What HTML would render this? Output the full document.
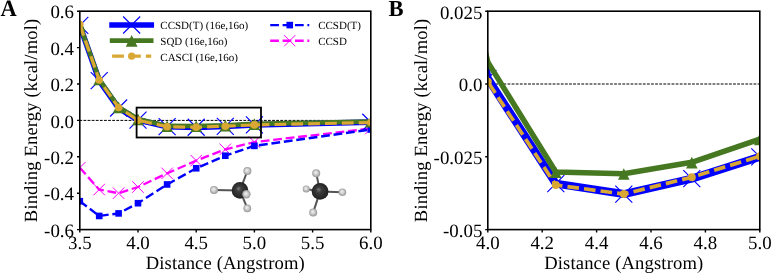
<!DOCTYPE html><html><head><meta charset="utf-8"><style>html,body{margin:0;padding:0;background:#fff;overflow:hidden}svg{display:block;will-change:transform}text{font-family:"Liberation Serif",serif;fill:#000;text-rendering:geometricPrecision}</style></head><body><svg width="771" height="273" viewBox="0 0 771 273"><defs><clipPath id="cl"><rect x="79.8" y="11.2" width="291.0" height="218.4"/></clipPath><clipPath id="cr"><rect x="487.8" y="11.2" width="271.99999999999994" height="218.4"/></clipPath><radialGradient id="gC" cx="0.5" cy="0.5" fx="0.4" fy="0.38" r="0.55"><stop offset="0" stop-color="#7a7a7a"/><stop offset="0.3" stop-color="#3c3c3c"/><stop offset="1" stop-color="#1e1e1e"/></radialGradient><radialGradient id="gH" cx="0.5" cy="0.5" fx="0.42" fy="0.4" r="0.55"><stop offset="0" stop-color="#f4f4f4"/><stop offset="0.45" stop-color="#cfcfcf"/><stop offset="1" stop-color="#8c8c8c"/></radialGradient></defs><g clip-path="url(#cl)"><line x1="79.8" y1="120.40" x2="370.8" y2="120.40" stroke="#000" stroke-width="1" stroke-dasharray="2.8 1.3" stroke-dashoffset="0.4"/><polyline points="79.80,167.72 99.20,189.56 118.60,193.20 138.00,187.01 167.10,173.36 196.20,160.62 225.30,149.34 254.40,142.06 370.80,128.59" fill="none" stroke="#ff00ff" stroke-width="2.35" stroke-dasharray="8.8 3.75"/><path d="M74.05,161.97L85.55,173.47M74.05,173.47L85.55,161.97" stroke="#ff00ff" stroke-width="1.0" fill="none"/><path d="M93.45,183.81L104.95,195.31M93.45,195.31L104.95,183.81" stroke="#ff00ff" stroke-width="1.0" fill="none"/><path d="M112.85,187.45L124.35,198.95M112.85,198.95L124.35,187.45" stroke="#ff00ff" stroke-width="1.0" fill="none"/><path d="M132.25,181.26L143.75,192.76M132.25,192.76L143.75,181.26" stroke="#ff00ff" stroke-width="1.0" fill="none"/><path d="M161.35,167.61L172.85,179.11M161.35,179.11L172.85,167.61" stroke="#ff00ff" stroke-width="1.0" fill="none"/><path d="M190.45,154.87L201.95,166.37M190.45,166.37L201.95,154.87" stroke="#ff00ff" stroke-width="1.0" fill="none"/><path d="M219.55,143.59L231.05,155.09M219.55,155.09L231.05,143.59" stroke="#ff00ff" stroke-width="1.0" fill="none"/><path d="M248.65,136.31L260.15,147.81M248.65,147.81L260.15,136.31" stroke="#ff00ff" stroke-width="1.0" fill="none"/><path d="M365.05,122.84L376.55,134.34M365.05,134.34L376.55,122.84" stroke="#ff00ff" stroke-width="1.0" fill="none"/><polyline points="79.80,201.21 99.20,215.95 118.60,213.40 138.00,203.21 167.10,184.46 196.20,168.27 225.30,155.71 254.40,145.88 370.80,129.50" fill="none" stroke="#0000ff" stroke-width="2.35" stroke-dasharray="8.8 3.75"/><rect x="76.50" y="197.91" width="6.6" height="6.6" fill="#0000ff"/><rect x="95.90" y="212.65" width="6.6" height="6.6" fill="#0000ff"/><rect x="115.30" y="210.10" width="6.6" height="6.6" fill="#0000ff"/><rect x="134.70" y="199.91" width="6.6" height="6.6" fill="#0000ff"/><rect x="163.80" y="181.16" width="6.6" height="6.6" fill="#0000ff"/><rect x="192.90" y="164.97" width="6.6" height="6.6" fill="#0000ff"/><rect x="222.00" y="152.41" width="6.6" height="6.6" fill="#0000ff"/><rect x="251.10" y="142.58" width="6.6" height="6.6" fill="#0000ff"/><rect x="367.50" y="126.20" width="6.6" height="6.6" fill="#0000ff"/><polyline points="79.80,25.40 99.20,80.54 118.60,108.02 138.00,120.05 167.10,126.62 196.20,127.28 225.30,126.32 254.40,124.95 370.80,122.22" fill="none" stroke="#0000ff" stroke-width="5.7" stroke-linejoin="round"/><path d="M71.30,16.90L88.30,33.90M71.30,33.90L88.30,16.90" stroke="#0000ff" stroke-width="1.15" fill="none"/><path d="M90.70,72.04L107.70,89.04M90.70,89.04L107.70,72.04" stroke="#0000ff" stroke-width="1.15" fill="none"/><path d="M110.10,99.52L127.10,116.52M110.10,116.52L127.10,99.52" stroke="#0000ff" stroke-width="1.15" fill="none"/><path d="M129.50,111.55L146.50,128.55M129.50,128.55L146.50,111.55" stroke="#0000ff" stroke-width="1.15" fill="none"/><path d="M158.60,118.12L175.60,135.12M158.60,135.12L175.60,118.12" stroke="#0000ff" stroke-width="1.15" fill="none"/><path d="M187.70,118.78L204.70,135.78M187.70,135.78L204.70,118.78" stroke="#0000ff" stroke-width="1.15" fill="none"/><path d="M216.80,117.82L233.80,134.81M216.80,134.81L233.80,117.82" stroke="#0000ff" stroke-width="1.15" fill="none"/><path d="M245.90,116.45L262.90,133.45M245.90,133.45L262.90,116.45" stroke="#0000ff" stroke-width="1.15" fill="none"/><path d="M362.30,113.72L379.30,130.72M362.30,130.72L379.30,113.72" stroke="#0000ff" stroke-width="1.15" fill="none"/><polyline points="79.80,25.03 99.20,79.27 118.60,107.11 138.00,119.04 167.10,125.90 196.20,126.01 225.30,125.30 254.40,123.84 370.80,121.49" fill="none" stroke="#467821" stroke-width="4.6" stroke-linejoin="round"/><path d="M79.80,19.53L74.00,31.13L85.60,31.13Z" fill="#467821"/><path d="M99.20,73.77L93.40,85.37L105.00,85.37Z" fill="#467821"/><path d="M118.60,101.61L112.80,113.21L124.40,113.21Z" fill="#467821"/><path d="M138.00,113.54L132.20,125.14L143.80,125.14Z" fill="#467821"/><path d="M167.10,120.40L161.30,132.00L172.90,132.00Z" fill="#467821"/><path d="M196.20,120.51L190.40,132.11L202.00,132.11Z" fill="#467821"/><path d="M225.30,119.80L219.50,131.40L231.10,131.40Z" fill="#467821"/><path d="M254.40,118.34L248.60,129.94L260.20,129.94Z" fill="#467821"/><path d="M370.80,115.99L365.00,127.59L376.60,127.59Z" fill="#467821"/><polyline points="79.80,24.49 99.20,80.00 118.60,107.48 138.00,120.25 167.10,126.72 196.20,127.28 225.30,126.22 254.40,124.91 370.80,122.58" fill="none" stroke="#d9a733" stroke-width="3.2" stroke-dasharray="11.76 5.1"/><circle cx="79.80" cy="24.49" r="3.8" fill="#d9a733"/><circle cx="99.20" cy="80.00" r="3.8" fill="#d9a733"/><circle cx="118.60" cy="107.48" r="3.8" fill="#d9a733"/><circle cx="138.00" cy="120.25" r="3.8" fill="#d9a733"/><circle cx="167.10" cy="126.72" r="3.8" fill="#d9a733"/><circle cx="196.20" cy="127.28" r="3.8" fill="#d9a733"/><circle cx="225.30" cy="126.22" r="3.8" fill="#d9a733"/><circle cx="254.40" cy="124.91" r="3.8" fill="#d9a733"/><circle cx="370.80" cy="122.58" r="3.8" fill="#d9a733"/></g><rect x="136.6" y="107.6" width="124.4" height="29.9" fill="none" stroke="#000" stroke-width="1.8"/><line x1="240.0" y1="190.4" x2="247.4" y2="171.0" stroke="#555" stroke-width="2"/><line x1="240.0" y1="190.4" x2="214.0" y2="189.9" stroke="#555" stroke-width="2"/><line x1="240.0" y1="190.4" x2="246.4" y2="194.3" stroke="#555" stroke-width="2"/><line x1="240.0" y1="190.4" x2="247.3" y2="208.3" stroke="#555" stroke-width="2"/><circle cx="247.4" cy="171.0" r="4.0" fill="url(#gH)"/><circle cx="214.0" cy="189.9" r="4.0" fill="url(#gH)"/><circle cx="247.3" cy="208.3" r="3.9" fill="url(#gH)"/><circle cx="240.0" cy="190.4" r="8.3" fill="url(#gC)"/><circle cx="246.4" cy="194.3" r="4.2" fill="url(#gH)"/><line x1="320.1" y1="191.4" x2="316.2" y2="173.2" stroke="#555" stroke-width="2"/><line x1="320.1" y1="191.4" x2="306.2" y2="188.9" stroke="#555" stroke-width="2"/><line x1="320.1" y1="191.4" x2="342.4" y2="192.2" stroke="#555" stroke-width="2"/><line x1="320.1" y1="191.4" x2="313.2" y2="212.4" stroke="#555" stroke-width="2"/><circle cx="316.2" cy="173.2" r="4.0" fill="url(#gH)"/><circle cx="342.4" cy="192.2" r="3.8" fill="url(#gH)"/><circle cx="313.2" cy="212.4" r="4.0" fill="url(#gH)"/><circle cx="320.1" cy="191.4" r="8.4" fill="url(#gC)"/><circle cx="306.2" cy="188.9" r="3.5" fill="url(#gH)"/><rect x="79.8" y="11.2" width="291.00" height="218.40" fill="none" stroke="#000" stroke-width="1.6"/><path d="M79.80,229.6v2.9M138.00,229.6v2.9M196.20,229.6v2.9M254.40,229.6v2.9M312.60,229.6v2.9M370.80,229.6v2.9M79.8,11.20h-2.8M79.8,47.60h-2.8M79.8,84.00h-2.8M79.8,120.40h-2.8M79.8,156.80h-2.8M79.8,193.20h-2.8M79.8,229.60h-2.8" stroke="#000" stroke-width="1.4" fill="none"/><text x="79.80" y="248.6" font-size="18.9" text-anchor="middle">3.5</text><text x="138.00" y="248.6" font-size="18.9" text-anchor="middle">4.0</text><text x="196.20" y="248.6" font-size="18.9" text-anchor="middle">4.5</text><text x="254.40" y="248.6" font-size="18.9" text-anchor="middle">5.0</text><text x="312.60" y="248.6" font-size="18.9" text-anchor="middle">5.5</text><text x="370.80" y="248.6" font-size="18.9" text-anchor="middle">6.0</text><text x="74" y="18.40" font-size="18.9" text-anchor="end">0.6</text><text x="74" y="54.80" font-size="18.9" text-anchor="end">0.4</text><text x="74" y="91.20" font-size="18.9" text-anchor="end">0.2</text><text x="74" y="127.60" font-size="18.9" text-anchor="end">0.0</text><text x="74" y="164.00" font-size="18.9" text-anchor="end">-0.2</text><text x="74" y="200.40" font-size="18.9" text-anchor="end">-0.4</text><text x="74" y="236.80" font-size="18.9" text-anchor="end">-0.6</text><text x="225.30" y="268.7" font-size="18.6" letter-spacing="0.14" text-anchor="middle">Distance (Angstrom)</text><text transform="translate(37.4,120.40) rotate(-90)" font-size="18.6" letter-spacing="0.14" text-anchor="middle">Binding Energy (kcal/mol)</text><text transform="translate(0.6,16.3) scale(1,1.05)" font-size="22.5" font-weight="bold">A</text><line x1="112.1" y1="25.0" x2="151.2" y2="25.0" stroke="#0000ff" stroke-width="5.7" stroke-linecap="square"/><path d="M123.15,16.50L140.15,33.50M123.15,33.50L140.15,16.50" stroke="#0000ff" stroke-width="1.15" fill="none"/><line x1="112.1" y1="40.6" x2="151.2" y2="40.6" stroke="#467821" stroke-width="4.6" stroke-linecap="square"/><path d="M131.65,34.90L125.75,46.70L137.55,46.70Z" fill="#467821"/><line x1="112.1" y1="56.2" x2="151.2" y2="56.2" stroke="#d9a733" stroke-width="3.2" stroke-dasharray="11.8 5.1"/><circle cx="131.65" cy="56.20" r="3.6" fill="#d9a733"/><text x="160.3" y="29.30" font-size="11">CCSD(T) (16e,16o)</text><text x="160.3" y="44.90" font-size="11">SQD (16e,16o)</text><text x="160.3" y="60.50" font-size="11">CASCI (16e,16o)</text><line x1="270.2" y1="25.1" x2="309.3" y2="25.1" stroke="#0000ff" stroke-width="2.35" stroke-dasharray="8.7 3.7"/><rect x="286.45" y="21.80" width="6.6" height="6.6" fill="#0000ff"/><line x1="270.2" y1="40.7" x2="309.3" y2="40.7" stroke="#ff00ff" stroke-width="2.35" stroke-dasharray="8.7 3.7"/><path d="M284.25,35.20L295.25,46.20M284.25,46.20L295.25,35.20" stroke="#ff00ff" stroke-width="1.0" fill="none"/><text x="318.2" y="29.30" font-size="11">CCSD(T)</text><text x="318.2" y="44.90" font-size="11">CCSD</text><g clip-path="url(#cr)"><line x1="487.8" y1="84.00" x2="759.8" y2="84.00" stroke="#000" stroke-width="1" stroke-dasharray="2.8 1.3" stroke-dashoffset="0.75"/><polyline points="351.80,-1436.06 397.13,-553.73 442.47,-114.02 487.80,78.47 555.80,183.59 623.80,194.07 691.80,178.64 759.80,156.80 1031.80,113.12" fill="none" stroke="#0000ff" stroke-width="8" stroke-linejoin="round"/><path d="M343.30,-1444.56L360.30,-1427.56M343.30,-1427.56L360.30,-1444.56" stroke="#0000ff" stroke-width="1.15" fill="none"/><path d="M388.63,-562.23L405.63,-545.23M388.63,-545.23L405.63,-562.23" stroke="#0000ff" stroke-width="1.15" fill="none"/><path d="M433.97,-122.52L450.97,-105.52M433.97,-105.52L450.97,-122.52" stroke="#0000ff" stroke-width="1.15" fill="none"/><path d="M479.30,69.97L496.30,86.97M479.30,86.97L496.30,69.97" stroke="#0000ff" stroke-width="1.15" fill="none"/><path d="M547.30,175.09L564.30,192.09M547.30,192.09L564.30,175.09" stroke="#0000ff" stroke-width="1.15" fill="none"/><path d="M615.30,185.57L632.30,202.57M615.30,202.57L632.30,185.57" stroke="#0000ff" stroke-width="1.15" fill="none"/><path d="M683.30,170.14L700.30,187.14M683.30,187.14L700.30,170.14" stroke="#0000ff" stroke-width="1.15" fill="none"/><path d="M751.30,148.30L768.30,165.30M751.30,165.30L768.30,148.30" stroke="#0000ff" stroke-width="1.15" fill="none"/><path d="M1023.30,104.62L1040.30,121.62M1023.30,121.62L1040.30,104.62" stroke="#0000ff" stroke-width="1.15" fill="none"/><polyline points="351.80,-1441.89 397.13,-574.11 442.47,-128.58 487.80,62.16 555.80,171.94 623.80,173.69 691.80,162.33 759.80,139.04 1031.80,101.47" fill="none" stroke="#467821" stroke-width="5.5" stroke-linejoin="round"/><path d="M351.80,-1447.39L346.00,-1435.79L357.60,-1435.79Z" fill="#467821"/><path d="M397.13,-579.61L391.33,-568.01L402.93,-568.01Z" fill="#467821"/><path d="M442.47,-134.08L436.67,-122.48L448.27,-122.48Z" fill="#467821"/><path d="M487.80,56.66L482.00,68.26L493.60,68.26Z" fill="#467821"/><path d="M555.80,166.44L550.00,178.04L561.60,178.04Z" fill="#467821"/><path d="M623.80,168.19L618.00,179.79L629.60,179.79Z" fill="#467821"/><path d="M691.80,156.83L686.00,168.43L697.60,168.43Z" fill="#467821"/><path d="M759.80,133.54L754.00,145.14L765.60,145.14Z" fill="#467821"/><path d="M1031.80,95.97L1026.00,107.57L1037.60,107.57Z" fill="#467821"/><polyline points="351.80,-1450.62 397.13,-562.46 442.47,-122.75 487.80,81.67 555.80,185.05 623.80,194.07 691.80,177.18 759.80,156.22 1031.80,118.94" fill="none" stroke="#d9a733" stroke-width="3.7" stroke-dasharray="11.6 5.1" stroke-dashoffset="10.47"/><circle cx="351.80" cy="-1450.62" r="4.0" fill="#d9a733"/><circle cx="397.13" cy="-562.46" r="4.0" fill="#d9a733"/><circle cx="442.47" cy="-122.75" r="4.0" fill="#d9a733"/><circle cx="487.80" cy="81.67" r="4.0" fill="#d9a733"/><circle cx="555.80" cy="185.05" r="4.0" fill="#d9a733"/><circle cx="623.80" cy="194.07" r="4.0" fill="#d9a733"/><circle cx="691.80" cy="177.18" r="4.0" fill="#d9a733"/><circle cx="759.80" cy="156.22" r="4.0" fill="#d9a733"/><circle cx="1031.80" cy="118.94" r="4.0" fill="#d9a733"/></g><rect x="487.8" y="11.2" width="272.00" height="218.40" fill="none" stroke="#000" stroke-width="1.6"/><path d="M487.80,229.6v2.9M542.20,229.6v2.9M596.60,229.6v2.9M651.00,229.6v2.9M705.40,229.6v2.9M759.80,229.6v2.9M487.8,11.20h-2.6M487.8,84.00h-2.6M487.8,156.80h-2.6M487.8,229.60h-2.6" stroke="#000" stroke-width="1.4" fill="none"/><text x="487.80" y="248.6" font-size="18.9" text-anchor="middle">4.0</text><text x="542.20" y="248.6" font-size="18.9" text-anchor="middle">4.2</text><text x="596.60" y="248.6" font-size="18.9" text-anchor="middle">4.4</text><text x="651.00" y="248.6" font-size="18.9" text-anchor="middle">4.6</text><text x="705.40" y="248.6" font-size="18.9" text-anchor="middle">4.8</text><text x="759.80" y="248.6" font-size="18.9" text-anchor="middle">5.0</text><text x="482.4" y="18.60" font-size="18.9" text-anchor="end">0.025</text><text x="482.4" y="91.40" font-size="18.9" text-anchor="end">0.0</text><text x="482.4" y="164.20" font-size="18.9" text-anchor="end">-0.025</text><text x="482.4" y="237.00" font-size="18.9" text-anchor="end">-0.05</text><text x="623.80" y="268.7" font-size="18.6" letter-spacing="0.14" text-anchor="middle">Distance (Angstrom)</text><text transform="translate(426.8,120.40) rotate(-90)" font-size="18.6" letter-spacing="0.14" text-anchor="middle">Binding Energy (kcal/mol)</text><text transform="translate(388.4,16.1) scale(1,1.02)" font-size="22.6" font-weight="bold">B</text></svg></body></html>
